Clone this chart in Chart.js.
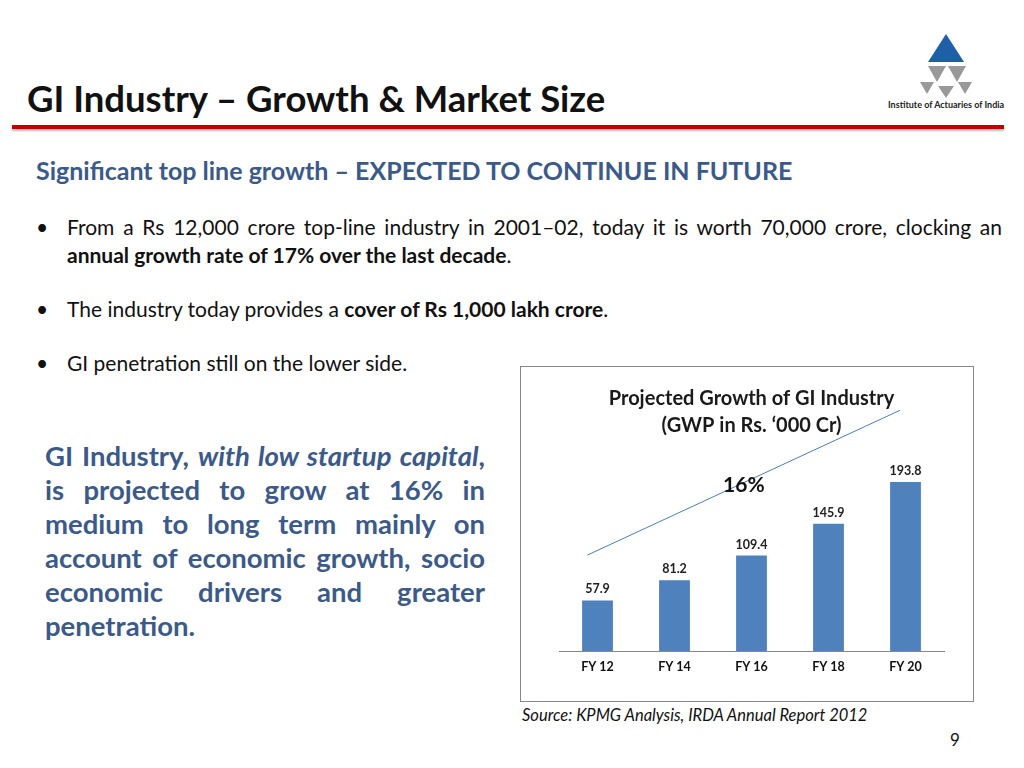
<!DOCTYPE html>
<html>
<head>
<meta charset="utf-8">
<script src="https://cdn.jsdelivr.net/npm/chart.js@4"></script>
<style>
  body { margin: 0; width: 1024px; height: 768px; background: #fff; font-family: Lato, "Open Sans", sans-serif; position: relative; overflow: hidden; }
  .abs { position: absolute; }
  #title { left: 27px; top: 76px; font-size: 36.5px; font-weight: bold; color: #111; line-height: 44px; }
  #rule { left: 12px; top: 125px; width: 992px; height: 4px; background: #c00000; box-shadow: 0 2px 2px #bbb; }
  #sub { left: 36px; top: 154px; font-size: 25px; font-weight: bold; color: #3b5a8a; line-height: 32px; }
  .bul { left: 36px; width: 966px; font-size: 21px; color: #111; line-height: 28px; text-align: justify; }
  .bul span.dot { position: absolute; left: 0; }
  .bul div { margin-left: 31px; }
  #para { left: 45px; top: 439px; width: 440px; font-size: 27.5px; font-weight: bold; color: #3b5a8a; line-height: 34px; text-align: justify; }
  #box { left: 520px; top: 366px; width: 452px; height: 334px; border: 1px solid #888; }
  #src { left: 522px; top: 705px; font-size: 16.5px; font-style: italic; color: #111; }
  #pg { left: 950px; top: 729px; font-size: 17px; color: #111; }
  #logo { left: 886px; top: 32px; }
</style>
</head>
<body>
<div id="title" class="abs">GI Industry – Growth &amp; Market Size</div>
<div id="rule" class="abs"></div>
<svg id="logo" class="abs" width="124" height="80">
  <polygon points="60,2 42,30 78,30" fill="#1f5fa8"/>
  <polygon points="42,34 60,34 51,50" fill="#999"/>
  <polygon points="62,34 80,34 71,50" fill="#999"/>
  <polygon points="34,50 48,50 41,62" fill="#999"/>
  <polygon points="72,50 86,50 79,62" fill="#999"/>
  <polygon points="52,54 68,54 60,66" fill="#999"/>
  <text x="2" y="76" font-size="9" font-weight="bold" font-family="Lato" fill="#222">Institute of Actuaries of India</text>
</svg>
<div id="sub" class="abs">Significant top line growth – EXPECTED TO CONTINUE IN FUTURE</div>
<div class="abs bul" style="top:213px"><span class="dot">•</span><div>From a Rs 12,000 crore top-line industry in 2001–02, today it is worth 70,000 crore, clocking an <b>annual growth rate of 17% over the last decade</b>.</div></div>
<div class="abs bul" style="top:295px"><span class="dot">•</span><div>The industry today provides a <b>cover of Rs 1,000 lakh crore</b>.</div></div>
<div class="abs bul" style="top:349px"><span class="dot">•</span><div>GI penetration still on the lower side.</div></div>
<div id="para" class="abs">GI Industry, <i>with low startup capital</i>, is projected to grow at 16% in medium to long term mainly on account of economic growth, socio economic drivers and greater penetration.</div>
<div id="box" class="abs"><canvas id="chart" width="452" height="334"></canvas></div>
<div id="src" class="abs">Source: KPMG Analysis, IRDA Annual Report 2012</div>
<div id="pg" class="abs">9</div>
<script>
const years = ['FY 12', 'FY 14', 'FY 16', 'FY 18', 'FY 20'];
const gwp = [57.9, 81.2, 109.4, 145.9, 193.8];
const trendStart = [-0.13, 110];
const trendEnd = [3.93, 276];
const growthLabel = '16%';

const extras = {
  id: 'extras',
  afterDatasetsDraw(chart) {
    const c = chart.ctx, x = chart.scales.x, y = chart.scales.y;
    c.save();
    c.font = 'bold 12.5px Lato';
    c.fillStyle = '#222';
    c.textAlign = 'center';
    chart.getDatasetMeta(0).data.forEach((bar, i) => {
      c.fillText(gwp[i].toFixed(1), bar.x, bar.y - 7);
    });
    const p = (v) => [x.getPixelForDecimal((v[0] + 0.5) / years.length), y.getPixelForValue(v[1])];
    const a = p(trendStart), b = p(trendEnd);
    c.strokeStyle = '#4a7ebb';
    c.lineWidth = 1;
    c.beginPath(); c.moveTo(a[0], a[1]); c.lineTo(b[0], b[1]); c.stroke();
    c.font = 'bold 21px Lato';
    c.fillStyle = '#111';
    const m = p([1.9, 182]);
    c.fillText(growthLabel, m[0], m[1]);
    c.restore();
  }
};

new Chart(document.getElementById('chart'), {
  type: 'bar',
  data: { labels: years, datasets: [{ data: gwp, backgroundColor: '#4f81bd', barPercentage: 0.4, categoryPercentage: 1 }] },
  options: {
    responsive: false,
    animation: false,
    layout: { padding: { left: 38, right: 29, top: 10, bottom: 24 } },
    plugins: {
      legend: { display: false },
      tooltip: { enabled: false },
      title: { display: true, text: ['Projected Growth of GI Industry', '(GWP in Rs. ‘000 Cr)'], color: '#1a1a1a', font: { family: 'Lato', size: 20, weight: 'bold', lineHeight: 1.35 }, padding: { top: 8, bottom: 0 } }
    },
    scales: {
      x: { grid: { display: false, drawTicks: true, tickLength: 5 }, border: { color: '#888' }, ticks: { color: '#111', font: { family: 'Lato', size: 12.5, weight: 'bold' } } },
      y: { display: false, min: 0, max: 243 }
    }
  },
  plugins: [extras]
});
</script>
</body>
</html>
